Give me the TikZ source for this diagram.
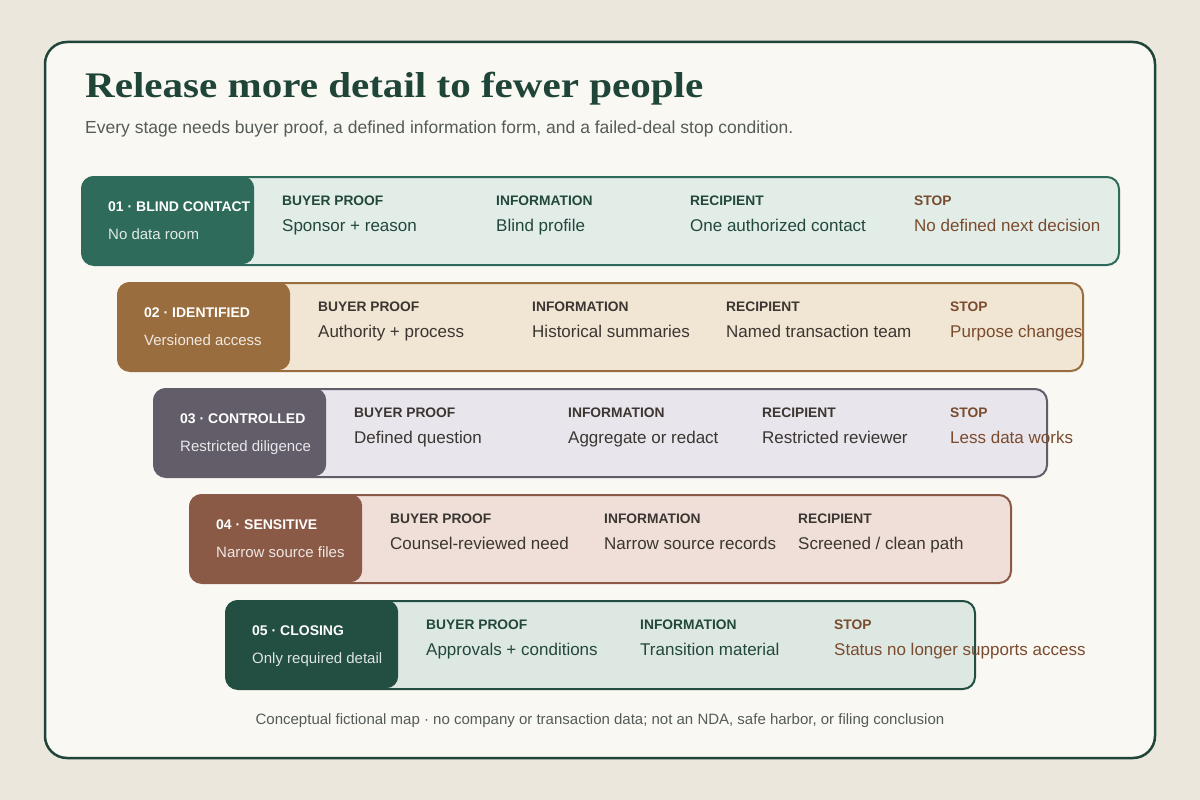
\documentclass[tikz,border=0pt]{standalone}
\usepackage{fontspec}
\setmainfont{Liberation Serif}
\setsansfont{Liberation Sans}
\newfontfamily\titlefont[FakeStretch=1.14]{Liberation Serif}
\usetikzlibrary{positioning}

\definecolor{pagebg}{HTML}{ECE7DD}
\definecolor{cardbg}{HTML}{FAF8F3}
\definecolor{ink}{HTML}{1F4438}
\definecolor{muted}{HTML}{555B58}
\definecolor{stopink}{HTML}{7A4B2E}
\definecolor{greenink}{HTML}{22473B}
\definecolor{warmink}{HTML}{3B3631}
\definecolor{oneDark}{HTML}{2F6B5A}   \definecolor{oneLight}{HTML}{E2EDE8}
\definecolor{twoDark}{HTML}{9A6D3E}   \definecolor{twoLight}{HTML}{F1E6D4}
\definecolor{threeDark}{HTML}{625D69} \definecolor{threeLight}{HTML}{E8E5EC}
\definecolor{fourDark}{HTML}{8B5A46}  \definecolor{fourLight}{HTML}{EFDFD8}
\definecolor{fiveDark}{HTML}{234E42}  \definecolor{fiveLight}{HTML}{DEE8E3}

\tikzset{
  rowbox/.style={draw, line width=2pt, rounded corners=12pt, minimum height=88pt, inner sep=0pt},
  tagbox/.style={rounded corners=12pt, minimum width=173pt, minimum height=88pt, inner sep=0pt},
  tagtitle/.style={inner sep=0pt, text=white, font=\sffamily\bfseries\fontsize{14}{16}\selectfont},
  tagnote/.style={inner sep=0pt, text=white, text opacity=0.85, font=\sffamily\fontsize{15}{18}\selectfont},
  headgreen/.style={inner sep=0pt, text=greenink, font=\sffamily\bfseries\fontsize{13.8}{16}\selectfont},
  headwarm/.style={inner sep=0pt, text=warmink, font=\sffamily\bfseries\fontsize{13.8}{16}\selectfont},
  headstop/.style={inner sep=0pt, text=stopink, font=\sffamily\bfseries\fontsize{13.8}{16}\selectfont},
  valuegreen/.style={inner sep=0pt, text=greenink, font=\sffamily\fontsize{17}{20}\selectfont},
  valuewarm/.style={inner sep=0pt, text=warmink, font=\sffamily\fontsize{17}{20}\selectfont},
  valuestop/.style={inner sep=0pt, text=stopink, font=\sffamily\fontsize{17}{20}\selectfont}
}

\newcommand{\stage}[7]{% #1: row id, #2: x, #3: y, #4: width, #5: palette, #6: tag, #7: note
  \node[rowbox, draw=#5Dark, fill=#5Light, minimum width=#4pt, anchor=north west] (row#1) at (#2,#3) {};
  \node[tagbox, fill=#5Dark, anchor=north west] (tag#1) at (row#1.north west) {};
  \node[tagtitle, anchor=base west] (tag#1t) at ([shift={(27,35)}]row#1.north west) {#6};
  \node[tagnote, anchor=base west] (tag#1n) at ([shift={(27,63)}]row#1.north west) {#7};
}
\newcommand{\cell}[6]{% #1: name, #2: row id, #3: x offset, #4: header, #5: value, #6: ink
  \node[head#6, anchor=base west] (#1h) at ([shift={(#3,29)}]row#2.north west) {#4};
  \node[value#6, anchor=base west] (#1v) at ([shift={(#3,55)}]row#2.north west) {#5};
}

\begin{document}
\begin{tikzpicture}[x=1pt,y=-1pt]
  % Page and card
  \useasboundingbox[fill=pagebg] (0,0) rectangle (1200,800);
  \draw[ink, fill=cardbg, line width=2.5pt, rounded corners=22pt] (45,42) rectangle (1155,758);

  % Heading
  \node[inner sep=0pt, anchor=base west, text=ink, font=\titlefont\bfseries\fontsize{36}{40}\selectfont] (title) at (85,97) {Release more detail to fewer people};
  \node[inner sep=0pt, anchor=base west, text=muted, font=\sffamily\fontsize{17.5}{20}\selectfont] (subtitle) at (85,133) {Every stage needs buyer proof, a defined information form, and a failed-deal stop condition.};

  % Stages
  \stage{1}{81}{176}{1037}{one}{01 · BLIND CONTACT}{No data room}
  \cell{a1}{1}{201}{BUYER PROOF}{Sponsor + reason}{green}
  \cell{a2}{1}{415}{INFORMATION}{Blind profile}{green}
  \cell{a3}{1}{609}{RECIPIENT}{One authorized contact}{green}
  \cell{a4}{1}{833}{STOP}{No defined next decision}{stop}

  \stage{2}{117}{282}{965}{two}{02 · IDENTIFIED}{Versioned access}
  \cell{b1}{2}{201}{BUYER PROOF}{Authority + process}{warm}
  \cell{b2}{2}{415}{INFORMATION}{Historical summaries}{warm}
  \cell{b3}{2}{609}{RECIPIENT}{Named transaction team}{warm}
  \cell{b4}{2}{833}{STOP}{Purpose changes}{stop}

  \stage{3}{153}{388}{893}{three}{03 · CONTROLLED}{Restricted diligence}
  \cell{c1}{3}{201}{BUYER PROOF}{Defined question}{warm}
  \cell{c2}{3}{415}{INFORMATION}{Aggregate or redact}{warm}
  \cell{c3}{3}{609}{RECIPIENT}{Restricted reviewer}{warm}
  \cell{c4}{3}{797}{STOP}{Less data works}{stop}

  \stage{4}{189}{494}{821}{four}{04 · SENSITIVE}{Narrow source files}
  \cell{d1}{4}{201}{BUYER PROOF}{Counsel-reviewed need}{warm}
  \cell{d2}{4}{415}{INFORMATION}{Narrow source records}{warm}
  \cell{d3}{4}{609}{RECIPIENT}{Screened / clean path}{warm}

  \stage{5}{225}{600}{749}{five}{05 · CLOSING}{Only required detail}
  \cell{e1}{5}{201}{BUYER PROOF}{Approvals + conditions}{green}
  \cell{e2}{5}{415}{INFORMATION}{Transition material}{green}
  \cell{e3}{5}{609}{STOP}{Status no longer supports access}{stop}

  % Footnote
  \node[inner sep=0pt, anchor=base, text=muted, font=\sffamily\fontsize{15}{17}\selectfont] (footnote) at (600,724) {Conceptual fictional map · no company or transaction data; not an NDA, safe harbor, or filing conclusion};
\end{tikzpicture}
\end{document}
